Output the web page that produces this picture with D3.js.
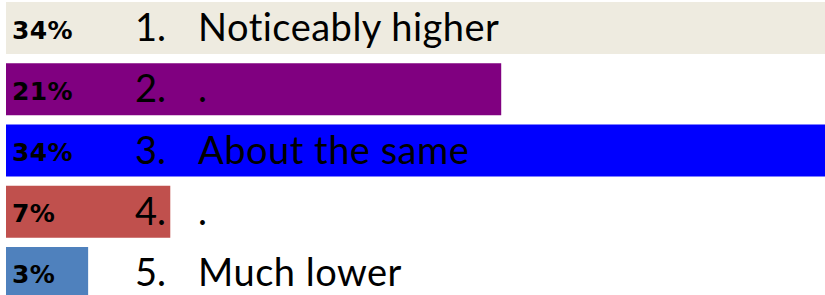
<!DOCTYPE html>
<html><head><meta charset="utf-8">
<script src="https://cdn.jsdelivr.net/npm/d3@7"></script>
<style>html,body{margin:0;padding:0;background:#fff;overflow:hidden}
text{font-variant-ligatures:none;font-feature-settings:"liga" 0}</style>
</head><body>
<svg id="c" width="825" height="295"></svg>
<script>
const nums = ["1.", "2.", "3.", "4.", "5."];
const labels = ["Noticeably higher", ".", "About the same", ".", "Much lower"];
const values = [34.4, 20.8, 34.4, 6.9, 3.45];
const pctLabels = ["34%", "21%", "34%", "7%", "3%"];
const colors = ["#EEEBE0", "#800080", "#0000FF", "#C0504D", "#4F81BD"];

const svg = d3.select("#c");
const x = d3.scaleLinear().domain([0, 34.4]).range([6, 825]);
const y = d3.scaleBand().domain(nums).range([2, 299]).paddingInner(0.151).paddingOuter(0);

const rows = svg.selectAll("g.row").data(nums).enter().append("g").attr("class","row");
rows.append("rect")
  .attr("x", x(0))
  .attr("y", d => y(d))
  .attr("width", (d,i) => x(values[i]) - x(0))
  .attr("height", y.bandwidth())
  .attr("fill", (d,i) => colors[i]);
rows.append("text")
  .attr("x", 12)
  .attr("y", d => y(d) + y.bandwidth()/2 + 10.5)
  .attr("font-family", "DejaVu Sans")
  .attr("font-weight", "bold")
  .attr("font-size", 25)
  .attr("letter-spacing", 0.3)
  .attr("fill", "#000")
  .text((d,i) => pctLabels[i]);
rows.append("text")
  .attr("x", 135)
  .attr("y", d => y(d) + y.bandwidth()/2 + 13)
  .attr("font-family", "Lato")
  .attr("font-size", 38)
  .attr("fill", "#000")
  .text(d => d);
rows.append("text")
  .attr("x", 198)
  .attr("y", d => y(d) + y.bandwidth()/2 + 13)
  .attr("font-family", "Lato")
  .attr("font-size", 38)
  .attr("letter-spacing", 0.5)
  .attr("fill", "#000")
  .text((d,i) => labels[i]);
</script>
</body></html>
